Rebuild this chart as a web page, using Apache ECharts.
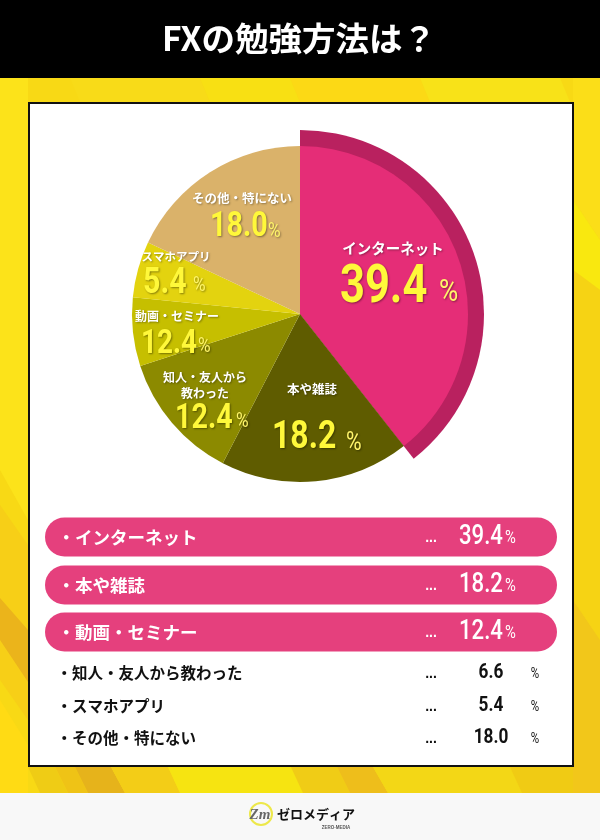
<!DOCTYPE html>
<html>
<head>
<meta charset="utf-8">
<title>FXの勉強方法は？</title>
<script src="https://cdn.jsdelivr.net/npm/echarts@6/dist/echarts.min.js"></script>
<style>
html, body { margin: 0; padding: 0; background: #fff; }
#main { width: 600px; height: 840px; }
</style>
</head>
<body>
<div id="main"></div>
<script>
// slices, clockwise from the top
var sliceNames = ['インターネット', '本や雑誌', '知人・友人から\n教わった', '動画・セミナー', 'スマホアプリ', 'その他・特にない'];
var sliceValues = [39.4, 18.2, 12.4, 6.6, 5.4, 18.0];
// numbers printed on the slices (the picture prints 12.4 on the 動画 slice)
var sliceLabels = ['39.4', '18.2', '12.4', '12.4', '5.4', '18.0'];
var sliceColors = ['#E52D77', '#5F5C00', '#8C8A00', '#C6BF00', '#E3D30F', '#DAB26A'];

var rowNames = ['インターネット', '本や雑誌', '動画・セミナー', '知人・友人から教わった', 'スマホアプリ', 'その他・特にない'];
var rowValues = ['39.4', '18.2', '12.4', '6.6', '5.4', '18.0'];

var FONT_JP = '"Noto Sans CJK JP"';
var FONT_NUM = 'Roboto';
var NARROW = 0.82;

// where each slice's texts go and how big they are
var nameLook = [
	{ x: 393, y: 248, size: 14.5 },
	{ x: 312, y: 389, size: 12.5 },
	{ x: 205, y: 385, size: 12 },
	{ x: 177, y: 316, size: 12 },
	{ x: 176, y: 257, size: 11.5 },
	{ x: 242, y: 198, size: 12.5 }
];
var numLook = [
	{ x: 340, y: 289, size: 53, pctX: 439, pctY: 293, pct: 32 },
	{ x: 272, y: 438, size: 39, pctX: 346, pctY: 443, pct: 26 },
	{ x: 175, y: 419, size: 35, pctX: 236, pctY: 422, pct: 21 },
	{ x: 141, y: 344, size: 34, pctX: 198, pctY: 347, pct: 21 },
	{ x: 143, y: 284, size: 37, pctX: 193, pctY: 286, pct: 21 },
	{ x: 210, y: 227, size: 35, pctX: 268, pctY: 232, pct: 21 }
];

var pieData = sliceValues.map(function(v, i) {
	return {
		name: sliceNames[i],
		value: v,
		itemStyle: { color: sliceColors[i] },
		label: { fontSize: nameLook[i].size, lineHeight: nameLook[i].size + 4 }
	};
});
// the raised rim behind the biggest slice
var rimData = sliceValues.map(function(v, i) {
	return { name: sliceNames[i], value: v, itemStyle: { color: i == 0 ? '#B9215F' : 'transparent' } };
});

function text(x, y, str, size, color, opts) {
	return {
		type: 'text',
		z: 1,
		style: Object.assign({
			x: x, y: y, text: str, fontSize: size, fill: color,
			fontFamily: FONT_JP, fontWeight: 700,
			textAlign: 'left', textVerticalAlign: 'middle'
		}, opts || {})
	};
}
// digits in the picture are condensed, so squeeze them
function narrowText(x, y, str, size, color, opts, z) {
	return {
		type: 'text',
		z: z || 1,
		x: x,
		y: y,
		scaleX: NARROW,
		style: Object.assign({
			x: 0, y: 0, text: str, fontSize: size, fill: color,
			fontFamily: FONT_NUM, fontWeight: 700,
			textAlign: 'left', textVerticalAlign: 'middle'
		}, opts || {})
	};
}
function box(x, y, w, h, color, r) {
	return {
		type: 'rect', z: 0,
		shape: { x: x, y: y, width: w, height: h, r: r || 0 },
		style: { fill: color }
	};
}
function stripe(points, color) {
	return { type: 'polygon', z: 0, shape: { points: points }, style: { fill: color } };
}

var graphics = [
	box(0, 0, 600, 840, '#F8D915'),
	// background stripes, left side
	stripe([[0, 78], [28, 78], [28, 520], [0, 470]], '#FCE31A'),
	stripe([[0, 505], [28, 545], [28, 720], [0, 680]], '#F7CF17'),
	stripe([[0, 598], [28, 630], [28, 682], [0, 640]], '#EBB41B'),
	stripe([[0, 700], [28, 745], [28, 793], [0, 793]], '#FFDB14'),
	// right side
	stripe([[573, 78], [600, 78], [600, 240], [573, 200]], '#FBDE18'),
	stripe([[573, 200], [600, 240], [600, 290], [573, 270]], '#F9E80F'),
	stripe([[573, 270], [600, 290], [600, 640], [573, 600]], '#F6D314'),
	stripe([[573, 600], [600, 640], [600, 793], [573, 793]], '#F2C71A'),
	// top strip
	stripe([[70, 78], [200, 78], [210, 102], [80, 102]], '#F8DB18'),
	stripe([[200, 78], [290, 78], [300, 102], [210, 102]], '#F8E013'),
	stripe([[290, 78], [420, 78], [430, 102], [300, 102]], '#FCD915'),
	stripe([[420, 78], [560, 78], [570, 102], [430, 102]], '#F8E218'),
	// bottom strip
	stripe([[28, 767], [55, 767], [68, 793], [40, 793]], '#EFCC15'),
	stripe([[55, 767], [75, 767], [88, 793], [68, 793]], '#EFC316'),
	stripe([[75, 767], [111, 767], [125, 793], [88, 793]], '#E6B31B'),
	stripe([[111, 767], [168, 767], [180, 793], [125, 793]], '#F3CD17'),
	stripe([[168, 767], [291, 767], [303, 793], [180, 793]], '#F6E411'),
	stripe([[291, 767], [337, 767], [350, 793], [303, 793]], '#F0CC16'),
	stripe([[337, 767], [373, 767], [388, 793], [350, 793]], '#EEBE1B'),
	stripe([[373, 767], [510, 767], [522, 793], [388, 793]], '#F3D716'),
	stripe([[510, 767], [573, 767], [573, 793], [522, 793]], '#F0CB14'),
	box(0, 0, 600, 78, '#000'),
	box(0, 793, 600, 47, '#F8F8F8'),
	{ type: 'rect', z: 0, shape: { x: 29, y: 103, width: 544, height: 663 }, style: { fill: '#fff', stroke: '#111', lineWidth: 2 } },
	text(299, 38, 'FXの勉強方法は？', 33.5, '#fff', { textAlign: 'center' }),
	// logo
	{ type: 'circle', z: 1, shape: { cx: 261, cy: 814, r: 11 }, style: { fill: '#F8F8F8', stroke: '#EDE84A', lineWidth: 2 } },
	text(260, 815, 'Zm', 15, '#666', { textAlign: 'center', fontFamily: 'Liberation Serif', fontStyle: 'italic' }),
	text(277, 814, 'ゼロメディア', 13, '#111', {}),
	text(336, 828, 'ZERO-MEDIA', 4.5, '#555', { textAlign: 'center', fontFamily: 'Liberation Sans' })
];

var numShadow = { textShadowColor: 'rgba(0,0,0,0.4)', textShadowBlur: 2, textShadowOffsetX: 1, textShadowOffsetY: 1 };
sliceLabels.forEach(function(num, i) {
	var look = numLook[i];
	graphics.push(narrowText(look.x, look.y, num, look.size, '#FFF83A', numShadow, 10));
	graphics.push(narrowText(look.pctX, look.pctY, '%', look.pct, '#FFF56A', Object.assign({ fontWeight: 400 }, numShadow), 10));
});

var rowY = [537, 585, 632, 673, 706, 738];
rowNames.forEach(function(name, i) {
	var y = rowY[i];
	if (i < 3) {
		graphics.push(box(45, y - 19.5, 512, 39, '#E5407D', 19.5));
		graphics.push(text(57.5, y, '・' + name, 17.5, '#fff'));
		graphics.push(text(431, y + 1, '...', 14, '#fff', { textAlign: 'center', fontFamily: 'Liberation Sans' }));
		graphics.push(narrowText(459, y, rowValues[i], 27, '#fff', { fontWeight: 500 }));
		graphics.push(narrowText(505, y + 1, '%', 18, '#fff', { fontWeight: 400 }));
	} else {
		graphics.push(text(56.5, y, '・' + name, 15.5, '#111'));
		graphics.push(text(431, y + 1, '...', 14, '#111', { textAlign: 'center', fontFamily: 'Liberation Sans' }));
		graphics.push(narrowText(491, y, rowValues[i], 21, '#111', { textAlign: 'center' }));
		graphics.push(narrowText(535, y + 1, '%', 14, '#111', { textAlign: 'center', fontWeight: 400 }));
	}
});

var myChart = echarts.init(document.getElementById('main'), null, { renderer: 'canvas' });
var option = {
	animation: false,
	graphic: { elements: graphics },
	series: [ {
		type: 'pie',
		center: [300, 314],
		radius: [0, 184],
		startAngle: 90,
		silent: true,
		z: 2,
		label: { show: false },
		labelLine: { show: false },
		data: rimData
	}, {
		type: 'pie',
		center: [300, 314],
		radius: [0, 168],
		startAngle: 90,
		silent: true,
		z: 3,
		label: {
			show: true,
			position: 'inside',
			color: '#fff',
			fontFamily: FONT_JP,
			fontWeight: 700,
			textBorderWidth: 0,
			textShadowColor: 'rgba(0,0,0,0.35)',
			textShadowBlur: 2,
			textShadowOffsetX: 1,
			textShadowOffsetY: 1
		},
		labelLine: { show: false },
		labelLayout: function(params) {
			var look = nameLook[params.dataIndex];
			return { x: look.x, y: look.y, align: 'center', verticalAlign: 'middle' };
		},
		data: pieData
	} ]
};
myChart.setOption(option);
</script>
</body>
</html>
